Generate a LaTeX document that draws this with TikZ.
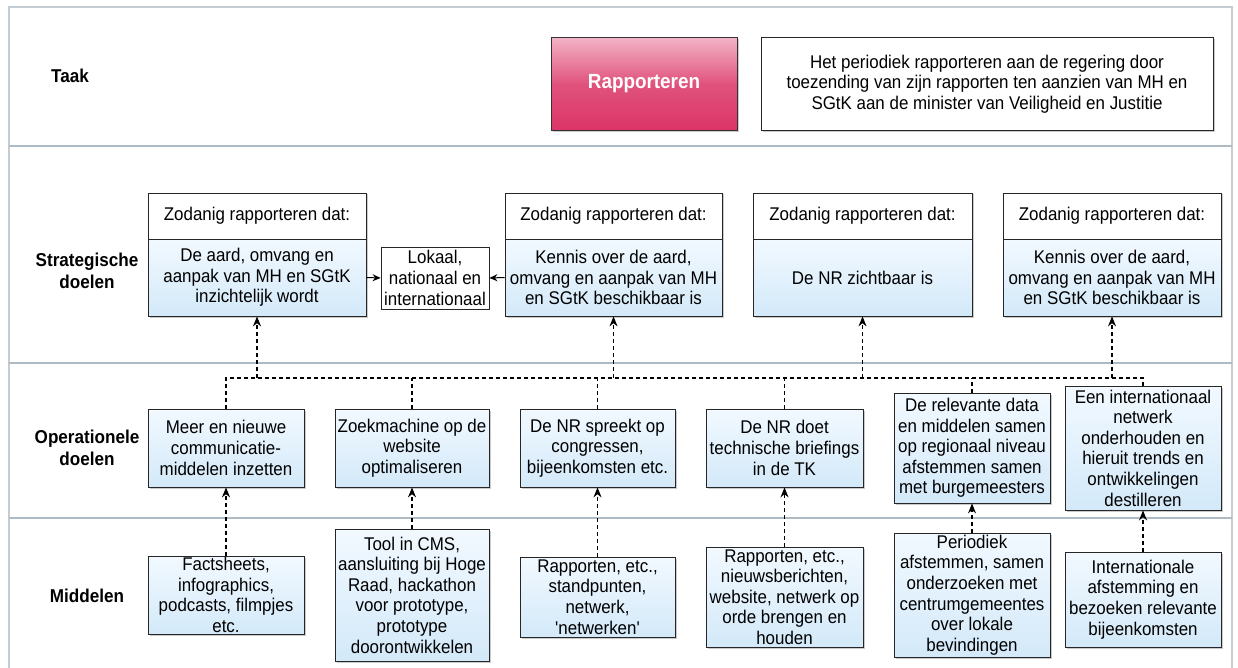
\documentclass[tikz,border=0pt]{standalone}
\usepackage{fontspec}
\newfontfamily\arialf{Liberation Sans}[FakeStretch=0.92]
\usetikzlibrary{arrows.meta,shadows}
\definecolor{lanec}{HTML}{AEBAC4}
\definecolor{framec}{HTML}{C4CDD4}
\definecolor{blueA}{HTML}{F2F9FF}
\definecolor{blueB}{HTML}{D3E9F9}
\definecolor{pinkA}{HTML}{F3B3C6}
\definecolor{pinkB}{HTML}{DB3466}
\begin{document}
\begin{tikzpicture}[x=1pt,y=-1pt,
  txt/.style={font=\arialf\fontsize{18.4}{20.6}\selectfont, align=center},
  lbl/.style={font=\arialf\bfseries\fontsize{18.6}{21.5}\selectfont, align=center},
  shad/.style={drop shadow={shadow xshift=1.5pt, shadow yshift=-1.5pt, opacity=0.35, fill=black!60}},
  bluebox/.style={txt, draw=black!85, line width=0.8pt, top color=blueA, bottom color=blueB, shad, inner sep=1pt},
  whitebox/.style={txt, draw=black!85, line width=0.8pt, fill=white, shad, inner sep=1pt},
  lane/.style={draw=lanec, line width=2.6pt},
  frame/.style={draw=framec, line width=1.6pt},
  dl/.style={dash pattern=on 4pt off 3pt, line width=1.2pt},
  conn/.style={dl, -{Stealth[length=10pt,width=8pt]}},
  side/.style={line width=1pt, -{Stealth[length=8pt,width=7pt]}}
]
\useasboundingbox (0,0) rectangle (1238,668);
% frame and lanes
\draw[frame] (9,668) -- (9,7) -- (1232,7) -- (1232,668);
\draw[lane] (9,146) -- (1232,146);
\draw[lane] (9,363) -- (1232,363);
\draw[lane] (9,518) -- (1232,518);
% lane labels
\node[lbl] (lt) at (70,76) {Taak};
\node[lbl] (ls) at (87,271) {Strategische\\doelen};
\node[lbl] (lo) at (87,448) {Operationele\\doelen};
\node[lbl] (lm) at (87,596) {Middelen};
% task
\node[draw=black!80, line width=0.8pt, top color=pinkA, bottom color=pinkB, middle color=pinkB!85!white, shad,
      minimum width=186pt, minimum height=93pt, text=white,
      font=\arialf\bfseries\fontsize{20.5}{23}\selectfont] (rap) at (644,84) {Rapporteren};
\node[whitebox, minimum width=452pt, minimum height=93pt] (desc) at (987,84)
  {Het periodiek rapporteren aan de regering door\\toezending van zijn rapporten ten aanzien van MH en\\SGtK aan de minister van Veiligheid en Justitie};
% strategic
\node[whitebox, minimum width=218pt, minimum height=46pt] (S1h) at (257,216) {Zodanig rapporteren dat:};
\node[bluebox, minimum width=218pt, minimum height=77pt] (S1b) at (257,277.5) {De aard, omvang en\\aanpak van MH en SGtK\\inzichtelijk wordt};
\node[whitebox, minimum width=217pt, minimum height=46pt] (S2h) at (613.5,216) {Zodanig rapporteren dat:};
\node[bluebox, minimum width=217pt, minimum height=77pt] (S2b) at (613.5,277.5) {Kennis over de aard,\\omvang en aanpak van MH\\en SGtK beschikbaar is};
\node[whitebox, minimum width=219pt, minimum height=46pt] (S3h) at (862.5,216) {Zodanig rapporteren dat:};
\node[bluebox, minimum width=219pt, minimum height=77pt] (S3b) at (862.5,277.5) {De NR zichtbaar is};
\node[whitebox, minimum width=218pt, minimum height=46pt] (S4h) at (1112,216) {Zodanig rapporteren dat:};
\node[bluebox, minimum width=218pt, minimum height=77pt] (S4b) at (1112,277.5) {Kennis over de aard,\\omvang en aanpak van MH\\en SGtK beschikbaar is};
\node[txt, draw=black!85, line width=0.8pt, fill=white, inner sep=0.5pt, minimum width=108pt, minimum height=62pt] (L) at (435,278) {Lokaal,\\nationaal en\\internationaal};
\draw[side] (S1b.east) -- (L.west);
\draw[side] (S2b.west) -- (L.east);
% operational
\node[bluebox, minimum width=156pt, minimum height=78pt] (O1) at (226,448) {Meer en nieuwe\\communicatie-\\middelen inzetten};
\node[bluebox, minimum width=154pt, minimum height=78pt] (O2) at (412,448) {Zoekmachine op de\\website\\optimaliseren};
\node[bluebox, minimum width=155pt, minimum height=78pt] (O3) at (597.5,448) {De NR spreekt op\\congressen,\\bijeenkomsten etc.};
\node[bluebox, minimum width=157pt, minimum height=78pt] (O4) at (784.5,448) {De NR doet\\technische briefings\\in de TK};
\node[bluebox, minimum width=156pt, minimum height=110pt] (O5) at (972,448) {De relevante data\\en middelen samen\\op regionaal niveau\\afstemmen samen\\met burgemeesters};
\node[bluebox, minimum width=156pt, minimum height=124pt] (O6) at (1143,448) {Een internationaal\\netwerk\\onderhouden en\\hieruit trends en\\ontwikkelingen\\destilleren};
% means
\node[bluebox, minimum width=156pt, minimum height=78pt] (M1) at (226,595) {Factsheets,\\infographics,\\podcasts, filmpjes\\etc.};
\node[bluebox, minimum width=154pt, minimum height=132pt] (M2) at (412,595) {Tool in CMS,\\aansluiting bij Hoge\\Raad, hackathon\\voor prototype,\\prototype\\doorontwikkelen};
\node[bluebox, minimum width=155pt, minimum height=80pt] (M3) at (597.5,597) {Rapporten, etc.,\\standpunten,\\netwerk,\\'netwerken'};
\node[bluebox, minimum width=157pt, minimum height=100pt] (M4) at (784.5,597) {Rapporten, etc.,\\nieuwsberichten,\\website, netwerk op\\orde brengen en\\houden};
\node[bluebox, minimum width=156pt, minimum height=124pt] (M5) at (972,595) {Periodiek\\afstemmen, samen\\onderzoeken met\\centrumgemeentes\\over lokale\\bevindingen};
\node[bluebox, minimum width=156pt, minimum height=95pt] (M6) at (1143,599.5) {Internationale\\afstemming en\\bezoeken relevante\\bijeenkomsten};
% means -> operational
\draw[conn] (M1.north) -- (O1.south);
\draw[conn] (M2.north) -- (O2.south);
\draw[conn] (M3.north) -- (O3.south);
\draw[conn] (M4.north) -- (O4.south);
\draw[conn] (M5.north) -- (O5.south);
\draw[conn] (M6.north) -- (O6.south);
% operational -> strategic (bus)
\coordinate (bus) at (0,378);
\draw[dl] (O1.north) -- (O1.north |- bus) -- (O6.north |- bus) -- (O6.north);
\draw[dl] (O2.north) -- (O2.north |- bus);
\draw[dl] (O3.north) -- (O3.north |- bus);
\draw[dl] (O4.north) -- (O4.north |- bus);
\draw[dl] (O5.north) -- (O5.north |- bus);
\draw[conn] (S1b.south |- bus) -- (S1b.south);
\draw[conn] (S2b.south |- bus) -- (S2b.south);
\draw[conn] (S3b.south |- bus) -- (S3b.south);
\draw[conn] (S4b.south |- bus) -- (S4b.south);
\end{tikzpicture}
\end{document}
